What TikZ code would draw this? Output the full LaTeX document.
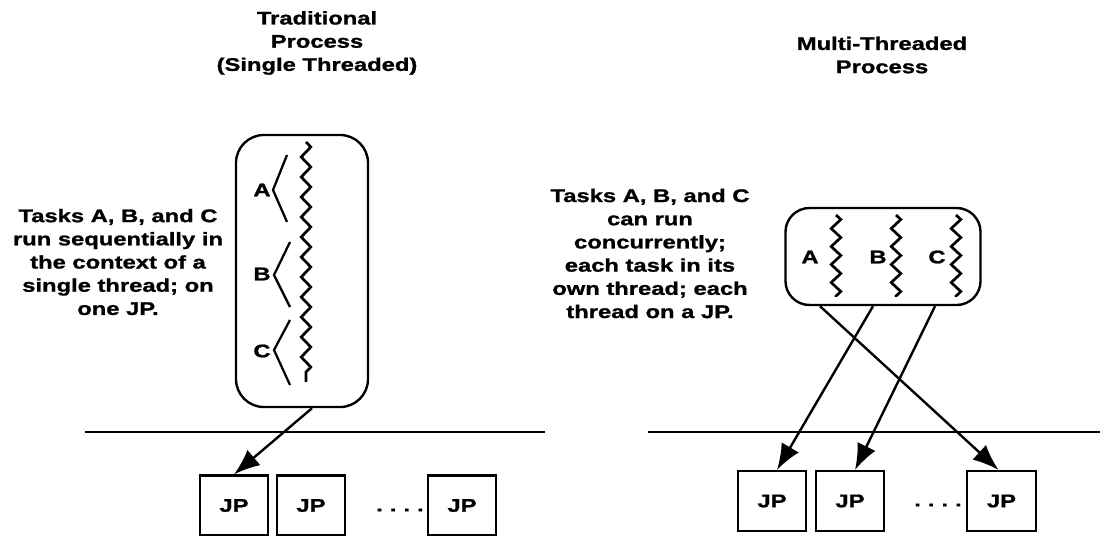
\documentclass[tikz,border=0pt]{standalone}
\usepackage{fontspec}
\setmainfont{Liberation Sans}[FakeStretch=1.3, FakeBold=1.2]
\usetikzlibrary{arrows.meta, positioning, calc, decorations.pathmorphing}

\begin{document}
\begin{tikzpicture}[
  x=0.025cm, y=-0.025cm,
  every node/.style={font=\fontsize{13}{16.5}\selectfont\bfseries},
  title/.style={align=center, inner sep=0pt},
  note/.style={align=center, inner sep=0pt},
  procbox/.style={draw, line width=1.7pt, rounded corners=0.7cm},
  jpbox/.style={draw, line width=1.5pt, minimum width=1.72cm, minimum height=1.5cm},
  lbl/.style={inner sep=0pt},
  thread/.style={line width=1.9pt, decorate,
                 decoration={zigzag, amplitude=0.12cm, segment length=0.5cm}},
  fork/.style={line width=1.6pt},
  ground/.style={line width=2pt},
  arr/.style={-{Latex[length=6.5mm, width=5mm]}, line width=1.7pt}
]
  \useasboundingbox (0,0) rectangle (1102,536);

  % left: traditional process
  \node[title] (ttitle) at (317,43) {Traditional\\Process\\(Single Threaded)};
  \node[note] (tnote) at (118,262) {Tasks A, B, and C\\run sequentially in\\the context of a\\single thread; on\\one JP.};
  \node[procbox, minimum width=3.3cm, minimum height=6.8cm] (tbox) at (302,271) {};
  \draw[thread] (306,142) -- (306,382);
  \draw[fork] (287,155) -- (273,190) -- (287,222);
  \draw[fork] (290,242) -- (274,275) -- (290,307);
  \draw[fork] (290,320) -- (274,350) -- (290,385);
  \node[lbl] (ta) at (262,190) {A};
  \node[lbl] (tb) at (262,274) {B};
  \node[lbl] (tc) at (262,351) {C};
  \draw[ground] (85,432) -- (545,432);
  \node[jpbox] (jpl1) at (234,505.5) {JP};
  \node[jpbox] (jpl2) at (311,505.5) {JP};
  \node[jpbox] (jpl3) at (462,505.5) {JP};
  \node (dotsl) at (400,510) {.\hspace{5pt}.\hspace{5pt}.\hspace{5pt}.};
  \draw[arr] ($(tbox.south)+(10,0)$) -- (jpl1.north);

  % right: multi-threaded process
  \node[title] (mtitle) at (882,55) {Multi-Threaded\\Process};
  \node[note] (mnote) at (650,253.5) {Tasks A, B, and C\\can run\\concurrently;\\each task in its\\own thread; each\\thread on a JP.};
  \node[procbox, minimum width=4.875cm, minimum height=2.425cm, rounded corners=0.6cm] (mbox) at (883,256.5) {};
  \foreach \x in {836, 896, 956}
    \draw[thread, decoration={segment length=0.45cm}] (\x,215) -- (\x,297);
  \node[lbl] (ma) at (810,257) {A};
  \node[lbl] (mb) at (878,257) {B};
  \node[lbl] (mc) at (937,257) {C};
  \draw[ground] (648,432) -- (1100,432);
  \node[jpbox] (jpr1) at (772,501) {JP};
  \node[jpbox] (jpr2) at (850,501) {JP};
  \node[jpbox] (jpr3) at (1001.5,501) {JP};
  \node (dotsr) at (938,505) {.\hspace{5pt}.\hspace{5pt}.\hspace{5pt}.};
  \draw[arr] ($(mbox.south)+(-10,0)$) -- ($(jpr1.north)+(5,0)$);
  \draw[arr] ($(mbox.south)+(52,0)$) -- ($(jpr2.north)+(5,0)$);
  \draw[arr] ($(mbox.south)+(-63,0)$) -- ($(jpr3.north)+(-3,0)$);
\end{tikzpicture}
\end{document}
